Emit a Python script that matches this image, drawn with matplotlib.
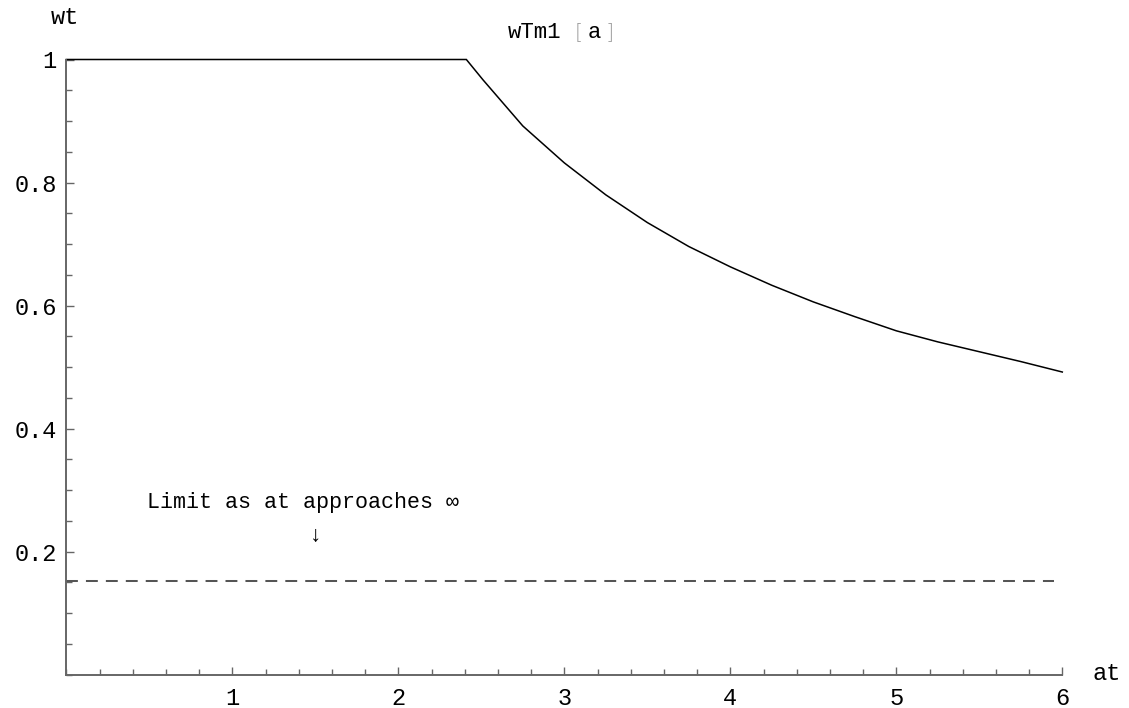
import matplotlib
matplotlib.use("Agg")
import matplotlib.pyplot as plt
from matplotlib.ticker import MultipleLocator, FixedLocator

# Data
at_vals = [0.0, 2.41, 2.51, 2.75, 3.0, 3.25, 3.5, 3.75, 4.0, 4.25, 4.5, 4.75, 5.0, 5.25, 5.5, 5.75, 6.0]
wt_vals = [1.0, 1.0, 0.967, 0.892, 0.832, 0.780, 0.735, 0.696, 0.663, 0.633, 0.606, 0.582, 0.559, 0.541, 0.525, 0.509, 0.492]
limit_value = 0.153
limit_x = [0.0, 5.95]
x_ticks = [1, 2, 3, 4, 5, 6]
x_labels = ["1", "2", "3", "4", "5", "6"]
y_ticks = [0.2, 0.4, 0.6, 0.8, 1.0]
y_labels = ["0.2", "0.4", "0.6", "0.8", "1"]

MONO = ["Liberation Mono", "DejaVu Sans Mono"]
W, H = 1129, 708
fig = plt.figure(figsize=(W / 100, H / 100), dpi=100)
x0, x1 = 66.3, 1062.3
y0, y1 = 674.7, 59.5
ax = fig.add_axes([x0 / W, 1 - y0 / H, (x1 - x0) / W, (y0 - y1) / H])
ax.set_xlim(0, 6)
ax.set_ylim(0, 1)

axcol = "#666666"
for s in ["top", "right"]:
    ax.spines[s].set_visible(False)
for s in ["left", "bottom"]:
    ax.spines[s].set_color(axcol)
    ax.spines[s].set_linewidth(1.4)

ax.plot(at_vals, wt_vals, color="black", lw=1.1, clip_on=False, solid_joinstyle="miter")
ax.plot(limit_x, [limit_value, limit_value], color="#555555", lw=1.45,
        dashes=(5.9, 4.0), clip_on=False)

ax.xaxis.set_major_locator(FixedLocator(x_ticks))
ax.set_xticklabels(x_labels)
ax.xaxis.set_minor_locator(MultipleLocator(0.2))
ax.yaxis.set_major_locator(FixedLocator(y_ticks))
ax.set_yticklabels(y_labels)
ax.yaxis.set_minor_locator(MultipleLocator(0.05))

ax.tick_params(axis="both", which="major", direction="in", length=6, width=1.0,
               color=axcol, labelsize=17, labelcolor="black")
ax.tick_params(axis="both", which="minor", direction="in", length=4, width=1.0, color=axcol)
ax.tick_params(axis="x", which="major", pad=9)
ax.tick_params(axis="y", which="major", pad=7)
for lab in ax.get_xticklabels() + ax.get_yticklabels():
    lab.set_family(MONO)

# Axis labels and title
fig.text(65 / W, 1 - 17 / H, "wt", family=MONO, fontsize=17, ha="center", va="center")
fig.text(1107 / W, 1 - 674 / H, "at", family=MONO, fontsize=17, ha="center", va="center")
fig.text(508 / W, 1 - 32 / H, "wTm1", family=MONO, fontsize=16, ha="left", va="center")
fig.text(579 / W, 1 - 32 / H, "[", family=["DejaVu Sans"], fontsize=15, ha="center",
         va="center", color="#999999", fontweight="light")
fig.text(594 / W, 1 - 32 / H, "a", family=MONO, fontsize=16, ha="center", va="center")
fig.text(610 / W, 1 - 32 / H, "]", family=["DejaVu Sans"], fontsize=15, ha="center",
         va="center", color="#999999", fontweight="light")

ax.text(0.486, 0.280, "Limit as at approaches \u221e", family=MONO, fontsize=15.6,
        ha="left", va="center")
ax.text(1.5, 0.227, "\u2193", family=MONO, fontsize=16, ha="center", va="center")

fig.savefig("out.png", dpi=100)
